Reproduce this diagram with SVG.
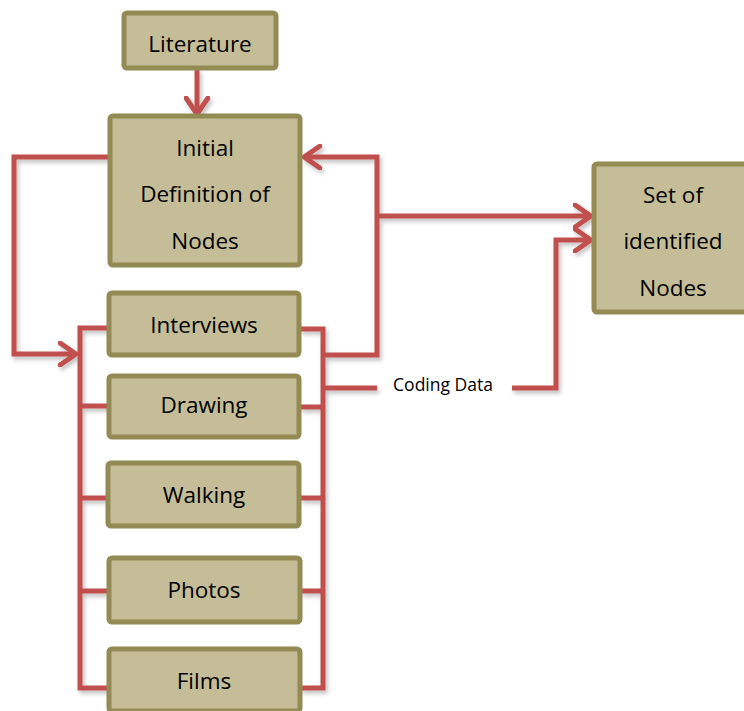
<svg xmlns="http://www.w3.org/2000/svg" width="744" height="711" viewBox="0 0 744 711">
<defs>
<style>
.box{fill:#c4bd97;stroke:#948a54;stroke-width:5}
.t{font-family:"Open Sans","Liberation Sans",sans-serif;font-size:22.5px;font-weight:500;fill:#000;text-anchor:middle}
.lbl{font-family:"Open Sans","Liberation Sans",sans-serif;font-size:17.5px;fill:#000;text-anchor:middle}
.c{fill:none;stroke:#c0504d;stroke-width:5;stroke-linejoin:miter}
</style>
<filter id="sh" x="-10%" y="-10%" width="130%" height="130%">
<feDropShadow dx="2" dy="3" stdDeviation="2" flood-color="#000" flood-opacity="0.25"/>
</filter>
<marker id="ah" viewBox="0 0 20 26" refX="18" refY="13" markerWidth="20" markerHeight="26" markerUnits="userSpaceOnUse" orient="auto">
<path d="M2,2 L18,13 L2,24" fill="none" stroke="#c0504d" stroke-width="5" stroke-linecap="round" stroke-linejoin="round"/>
</marker>
</defs>
<rect width="744" height="711" fill="#fff"/>
<g id="connectors" filter="url(#sh)">
<path class="c" d="M197,69 V114" marker-end="url(#ah)"/>
<path class="c" d="M109,157 H14 V354 H76" marker-end="url(#ah)"/>
<path class="c" d="M323,355 H377 V157 H304" marker-end="url(#ah)"/>
<path class="c" d="M377,216 H591" marker-end="url(#ah)"/>
<path class="c" d="M323,388 H377"/>
<path class="c" d="M512,388 H556 V240 H591" marker-end="url(#ah)"/>
<path class="c" d="M108,328 H80 V688 H108"/>
<path class="c" d="M108,406 H80"/>
<path class="c" d="M108,498 H80"/>
<path class="c" d="M108,591 H80"/>
<path class="c" d="M300,329 H323 V688 H300"/>
<path class="c" d="M300,407 H323"/>
<path class="c" d="M300,498 H323"/>
<path class="c" d="M300,591 H323"/>
</g>
<text class="lbl" x="443" y="391">Coding Data</text>
<g id="literature"><rect class="box" x="124" y="13" width="152" height="55" rx="3"/><text class="t" x="200" y="52">Literature</text></g>
<g id="initial"><rect class="box" x="110" y="116" width="190" height="149" rx="3"/><text class="t" x="205" y="156">Initial</text><text class="t" x="205" y="202">Definition of</text><text class="t" x="205" y="249">Nodes</text></g>
<g id="set"><rect class="box" x="594" y="164" width="156" height="148" rx="3"/><text class="t" x="673" y="203">Set of</text><text class="t" x="673" y="249">identified</text><text class="t" x="673" y="296">Nodes</text></g>
<g id="interviews"><rect class="box" x="109" y="293" width="190" height="62" rx="3"/><text class="t" x="204" y="333">Interviews</text></g>
<g id="drawing"><rect class="box" x="109" y="376" width="190" height="61" rx="3"/><text class="t" x="204" y="413">Drawing</text></g>
<g id="walking"><rect class="box" x="108" y="463" width="191" height="63" rx="3"/><text class="t" x="204" y="503">Walking</text></g>
<g id="photos"><rect class="box" x="109" y="558" width="191" height="64" rx="3"/><text class="t" x="204" y="598">Photos</text></g>
<g id="films"><rect class="box" x="109" y="649" width="191" height="62" rx="3"/><text class="t" x="204" y="689">Films</text></g>
</svg>
